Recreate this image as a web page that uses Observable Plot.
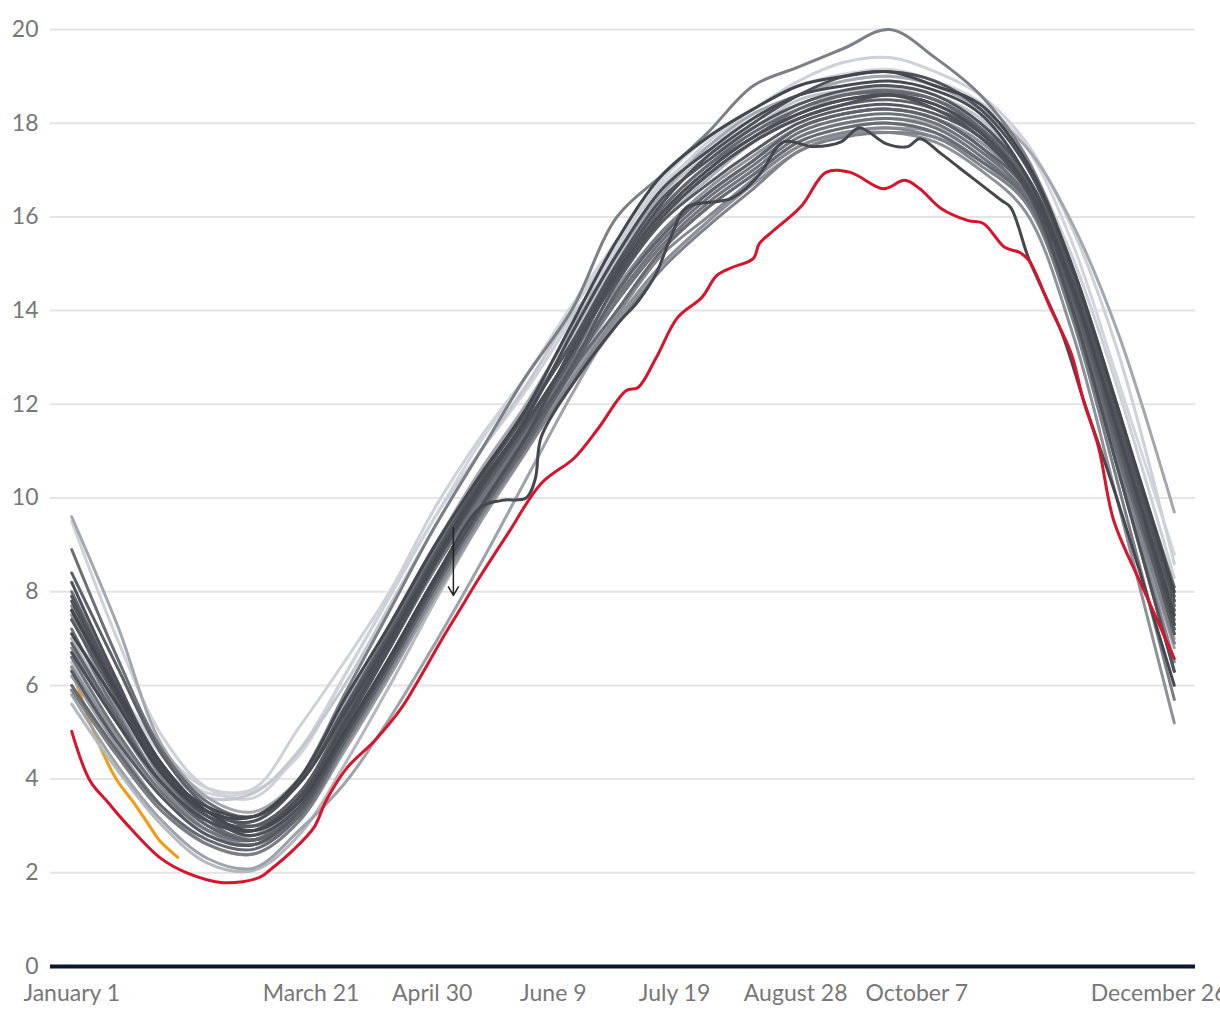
<!DOCTYPE html>
<html><head><meta charset="utf-8">
<script src="https://cdn.jsdelivr.net/npm/d3@7"></script>
<script src="https://cdn.jsdelivr.net/npm/@observablehq/plot@0.6"></script>
<style>body{margin:0;background:#fff;} #chart svg{display:block}</style>
</head><body><div id="chart"></div>
<script>
// ---- data ----
const days = [0,15,30,45,60,75,90,105,120,135,150,165,180,195,210,225,240,255,270,285,300,315,330,345,364];

const g01 = [9.5,7.0,4.9,3.8,3.6,4.6,6.2,7.9,9.6,11.0,12.3,13.8,15.3,16.6,17.6,18.3,18.9,19.3,19.4,19.1,18.6,17.6,15.8,13.2,8.6];
const g02 = [9.6,7.3,4.7,3.6,3.3,4.0,5.6,7.3,9.0,10.6,12.0,13.6,15.2,16.5,17.5,18.2,18.6,18.9,19.0,18.8,18.3,17.5,15.9,13.6,9.7];
const g03 = [8.9,6.6,4.6,3.5,3.2,3.9,5.5,7.2,8.9,10.4,11.9,13.3,14.9,16.2,17.1,17.7,18.3,18.6,18.7,18.5,17.9,16.9,14.8,11.9,8.1];
const g04 = [7.4,5.8,4.3,3.3,3.1,4.0,5.8,7.6,9.4,11.0,12.6,14.0,16.0,16.9,17.8,18.8,19.2,19.6,20.0,19.4,18.6,17.3,15.0,12.0,7.8];
const g06 = [7.0,5.9,4.6,3.8,3.8,5.1,6.5,8.0,9.8,11.3,12.6,14.0,15.4,16.7,17.5,18.1,18.6,18.9,19.0,18.8,18.3,17.2,15.2,12.4,8.3];
const g07 = [6.6,5.4,4.2,3.6,3.7,4.6,6.0,7.7,9.4,11.0,12.4,13.9,15.0,16.4,17.2,17.8,18.4,18.65,18.75,18.5,18.0,16.9,14.9,12.0,7.7];
const g08 = [5.8,4.3,3.1,2.3,2.1,2.9,3.9,5.3,6.9,8.6,10.4,12.2,13.8,15.0,15.9,16.8,17.5,17.8,17.9,17.8,17.2,16.3,14.0,10.8,6.8];
const g09 = [5.6,4.2,3.0,2.2,2.05,2.8,4.3,6.0,7.8,9.5,11.0,12.6,14.2,15.4,16.3,17.0,17.7,18.0,18.1,17.95,17.3,16.5,14.2,11.0,7.0];
const g10 = [8.4,6.4,4.5,3.4,3.0,3.6,5.2,6.9,8.6,10.2,11.6,13.1,14.7,16.0,16.9,17.6,18.1,18.4,18.5,18.3,17.8,16.8,14.6,11.6,7.6];
const g11 = [8.2,6.1,4.2,3.2,2.8,3.4,4.9,6.5,8.2,9.8,11.3,13.2,14.9,16.3,17.3,18.0,18.6,19.0,19.1,18.9,18.3,17.1,14.9,11.9,7.9];
const g12 = [8.0,6.0,4.1,3.1,2.7,3.3,4.8,6.4,8.1,9.7,11.1,12.7,14.0,15.3,16.2,16.9,17.6,17.9,18.0,17.8,17.2,16.4,14.1,11.0,7.2];
const g13 = [7.9,6.0,4.3,3.3,3.1,3.9,5.5,7.1,8.8,10.4,11.8,13.3,15.0,16.4,17.2,17.9,18.4,18.7,18.8,18.6,18.0,16.9,14.7,11.7,7.8];
const g14 = [7.7,5.7,4.0,3.0,2.7,3.2,4.7,6.3,8.0,9.6,11.1,12.4,13.7,14.9,15.8,16.6,17.4,17.7,17.8,17.7,17.1,16.3,14.0,10.9,6.9];
const g15 = [7.6,5.8,4.2,3.4,3.2,3.9,5.4,7.0,8.7,10.3,11.7,13.5,15.2,16.6,17.4,18.1,18.6,18.8,18.9,18.7,18.2,16.9,14.6,11.5,7.5];
const g16 = [7.5,5.5,3.9,3.0,2.8,3.5,5.1,6.8,8.5,10.0,11.5,13.0,14.5,15.7,16.6,17.3,17.9,18.2,18.3,18.1,17.6,16.6,14.4,11.3,7.3];
const g17 = [7.4,5.7,4.1,3.2,3.0,3.7,5.3,6.9,8.6,10.1,11.5,13.0,14.8,16.1,17.0,17.7,18.2,18.5,18.6,18.4,17.85,16.7,14.5,11.4,7.4];
const g18 = [7.2,5.4,3.9,3.1,2.9,3.6,5.2,6.8,8.5,10.0,11.4,12.9,14.3,15.5,16.4,17.1,17.8,18.1,18.2,18.0,17.4,16.5,14.2,11.2,7.1];
const g19 = [7.1,5.6,4.1,3.3,3.2,4.0,5.7,7.3,9.0,10.5,11.9,13.7,15.5,16.9,17.7,18.3,18.8,19.0,19.1,18.8,18.4,17.2,15.0,12.0,8.0];
const g20 = [7.0,5.3,3.8,2.9,2.7,3.4,5.0,6.6,8.3,9.8,11.2,12.7,14.6,15.9,16.8,17.6,18.2,18.6,18.7,18.5,18.0,16.9,14.7,11.8,7.6];
const g21 = [6.9,5.3,3.9,3.0,2.7,3.3,4.8,6.4,8.1,9.7,11.2,12.7,14.4,15.6,16.5,17.2,17.9,18.2,18.3,18.1,17.5,16.6,14.3,11.2,7.2];
const g22 = [6.8,5.2,3.8,2.9,2.6,3.2,4.7,6.3,8.0,9.6,11.0,12.5,13.9,15.2,16.0,16.8,17.5,17.8,17.9,17.7,17.2,16.4,14.1,10.8,6.5];
const g23 = [6.7,5.2,3.9,3.1,2.9,3.6,5.2,6.9,8.6,10.2,11.6,13.1,14.8,16.1,17.0,17.7,18.2,18.5,18.6,18.4,17.8,16.7,14.5,11.5,7.3];
const g24 = [6.6,5.0,3.7,2.9,2.7,3.4,5.0,6.6,8.3,9.9,11.3,12.8,14.2,15.4,16.3,17.0,17.7,18.0,18.1,17.9,17.3,16.4,14.0,10.7,6.3];
const g25 = [6.5,5.0,3.7,2.9,2.8,3.6,5.3,7.1,8.9,10.5,11.9,13.4,15.1,16.5,17.3,17.9,18.5,18.7,18.8,18.6,18.1,16.9,14.7,11.7,7.5];
const g26 = [6.3,4.8,3.6,2.8,2.6,3.3,4.9,6.5,8.2,9.8,11.3,12.8,14.6,15.9,16.7,17.4,18.0,18.3,18.4,18.2,17.7,16.7,14.4,11.3,7.1];
const g27 = [6.2,4.7,3.4,2.6,2.4,3.1,4.6,6.2,7.9,9.5,11.0,12.6,14.0,15.3,16.2,16.9,17.6,17.9,18.0,17.8,17.2,16.5,14.2,11.0,6.9];
const g28 = [6.0,4.6,3.4,2.7,2.5,3.2,4.8,6.5,8.2,9.8,11.3,13.2,14.9,16.2,17.1,17.8,18.3,18.6,18.65,18.5,17.9,16.7,14.6,11.6,7.7];
const g29 = [5.9,4.5,3.3,2.6,2.4,3.1,4.7,6.4,8.1,9.7,11.2,12.7,14.4,15.7,16.5,17.2,17.9,18.2,18.3,18.1,17.5,16.4,13.9,10.4,5.7];
const g30 = [7.5,5.9,4.5,3.7,3.75,4.5,6.2,7.9,9.6,11.2,12.6,14.1,15.5,16.8,17.7,18.3,18.8,19.05,19.15,18.9,18.45,17.5,15.5,12.6,8.8];
const g31 = [6.4,4.9,3.6,2.8,2.6,3.3,4.9,6.6,8.3,9.9,11.3,12.5,13.8,15.0,15.9,16.7,17.4,17.75,17.8,17.6,17.0,16.1,13.6,10.0,5.2];
const g32 = [7.8,5.9,4.2,3.2,2.9,3.5,5.1,6.8,8.6,10.2,11.6,13.1,14.7,16.0,16.9,17.6,18.1,18.4,18.6,18.3,17.7,16.6,14.1,10.7,6.3];

// one dark year with its own readings (jump in late May, dip in autumn)
const darkDays   = [0,15,30,45,60,75,90,105,120,135,142,150,153,155,165,180,187,193,198,203,218,227,235,245,254,260,269,276,280,287,293,300,307,310,316,327,334,345,364];
const darkValues = [7.6,5.9,4.3,3.3,2.9,3.5,5.0,6.6,8.3,9.8,9.95,10.0,10.4,11.3,12.4,13.7,14.2,14.8,15.6,16.2,16.4,16.9,17.6,17.5,17.6,17.9,17.56,17.5,17.67,17.35,17.05,16.7,16.35,16.2,15.1,13.5,12.1,10.0,6.0];

// highlighted year (red)
const redDays   = [0,6,12,18,29,38,50,62,66,73,80,84,91,100,109,115,122,128,134,144,155,166,174,183,187,193,200,208,213,218,225,227,231,241,249,257,268,275,280,287,296,301,308,313,316,323,330,334,339,344,353,358,364];
const redValues = [5.02,3.97,3.50,3.05,2.33,2.0,1.79,1.9,2.09,2.48,2.97,3.54,4.25,4.82,5.53,6.17,6.96,7.6,8.24,9.24,10.31,10.86,11.5,12.29,12.36,13.0,13.85,14.28,14.75,14.92,15.11,15.43,15.67,16.24,16.95,16.95,16.6,16.78,16.6,16.18,15.92,15.86,15.35,15.24,15.07,14.07,13.08,12.08,11.08,9.52,8.17,7.45,6.57];

// current year so far (orange)
const orangeDays   = [0,5,10,15,20,26,29,35];
const orangeValues = [6.38,5.4,4.6,3.97,3.54,2.97,2.69,2.33];

// annotation arrow
const arrowDay = [126];
const arrowFrom = [9.37];
const arrowTo = [7.92];

// axis ticks
const yTicks = [0,2,4,6,8,10,12,14,16,18,20];
const xTickDays = [0,79,119,159,199,239,279,359];
const xTickLabels = ["January 1","March 21","April 30","June 9","July 19","August 28","October 7","December 26"];

const graySeries = [g01,g02,g03,g04,g06,g07,g08,g09,g10,g11,g12,g13,g14,g15,g16,g17,g18,g19,g20,g21,g22,g23,g24,g25,g26,g27,g28,g29,g30,g31,g32];
// ---- styles ----
const grayShades = ["#cdd1d9","#a3a7ae","#6a6e75","#7b7f86","#cdd1d8","#c3c7ce","#9ea2a9","#b4b8bf","#5c6067","#4e5158","#676b72","#52555c","#7e828a","#484b52","#8f939a","#5a5d64","#6e727a","#44474e","#aeb2b9","#606369","#85898f","#4b4e55","#71757c","#bfc3ca","#575a61","#969aa1","#65686f","#7a7e85","#d2d6dc","#8d9198","#4f5259"];
const darkShade = "#45484f";

const lineSets = graySeries.map((vals, i) => ({
  rows: vals.map((v, j) => ({day: days[j], value: v})),
  color: grayShades[i]
}));
lineSets.push({rows: darkDays.map((d, j) => ({day: d, value: darkValues[j]})), color: darkShade});
lineSets.sort((a, b) => d3.hsl(b.color).l - d3.hsl(a.color).l);

const orangeRows = orangeDays.map((d, j) => ({day: d, value: orangeValues[j]}));
const redRows = redDays.map((d, j) => ({day: d, value: redValues[j]}));
const arrowRows = arrowDay.map((d, j) => ({day: d, from: arrowFrom[j], to: arrowTo[j]}));

const chart = Plot.plot({
  width: 1220, height: 1020,
  marginLeft: 50, marginRight: 25, marginTop: 29, marginBottom: 54,
  style: {fontFamily: "Lato, sans-serif", fontSize: "23px", color: "#777", background: "#fff"},
  x: {domain: [-7, 371]},
  y: {domain: [0, 20]},
  marks: [
    Plot.ruleY(yTicks.filter(v => v > 0), {stroke: "#e4e4e4", strokeWidth: 2}),
    Plot.axisY({ticks: yTicks, tickSize: 0, tickPadding: 12, label: null, tickFormat: d => String(d)}),
    Plot.axisX({ticks: xTickDays, tickSize: 0, tickPadding: 18, label: null,
      tickFormat: d => xTickLabels[xTickDays.indexOf(d)]}),
    Plot.line(orangeRows, {x: "day", y: "value", stroke: "#f39a12", strokeWidth: 3, curve: "catmull-rom"}),
    ...lineSets.map(s => Plot.line(s.rows, {x: "day", y: "value", stroke: s.color, strokeWidth: 3, curve: "catmull-rom"})),
    Plot.line(redRows, {x: "day", y: "value", stroke: "#d9132b", strokeWidth: 3, curve: "catmull-rom"}),
    Plot.ruleY([0], {stroke: "#0b1633", strokeWidth: 4}),
    Plot.arrow(arrowRows, {x1: "day", x2: "day", y1: "from", y2: "to", stroke: "#222", strokeWidth: 1.5, headLength: 10})
  ]
});
document.getElementById("chart").appendChild(chart);
</script>
</body></html>
